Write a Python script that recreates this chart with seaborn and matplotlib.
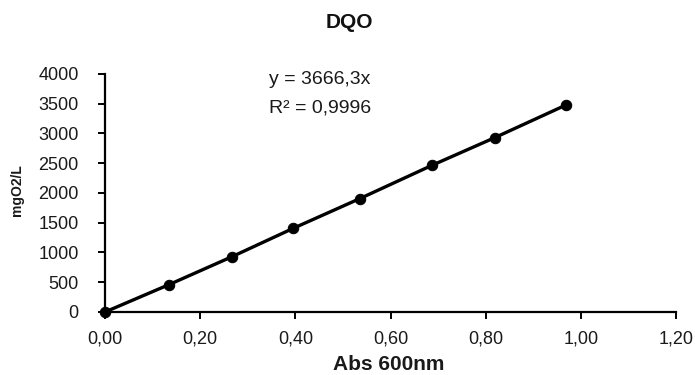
import matplotlib
matplotlib.use("Agg")
import matplotlib.pyplot as plt
import seaborn as sns
import pandas as pd
from matplotlib.ticker import FuncFormatter, MultipleLocator

sns.set_theme(style="white")
plt.rcParams['font.family'] = ['Liberation Sans', 'DejaVu Sans']

abs_600 = [0.0, 0.135, 0.267, 0.396, 0.535, 0.688, 0.819, 0.968]
mg_o2_l = [0, 462, 930, 1408, 1904, 2468, 2930, 3476]
title = "DQO"
x_label = "Abs 600nm"
y_label = "mgO2/L"
eq_text = "y = 3666,3x"
r2_text = "R² = 0,9996"

df = pd.DataFrame({"abs": abs_600, "mg": mg_o2_l})

W, H = 695, 375
fig = plt.figure(figsize=(6.95, 3.75), dpi=100)
ax = fig.add_axes([105 / W, 1 - 312 / H, (676 - 105) / W, (312 - 74) / H])
sns.lineplot(data=df, x="abs", y="mg", ax=ax, color="black", linewidth=2.4,
             marker="o", markersize=7.5, markeredgecolor="black", clip_on=False)

ax.set_xlim(0, 1.2)
ax.set_ylim(0, 4000)
ax.xaxis.set_major_locator(MultipleLocator(0.2))
ax.yaxis.set_major_locator(MultipleLocator(500))
ax.xaxis.set_major_formatter(FuncFormatter(lambda v, p: f"{v:.2f}".replace(".", ",")))
ax.yaxis.set_major_formatter(FuncFormatter(lambda v, p: f"{int(round(v))}"))
for s in ["top", "right"]:
    ax.spines[s].set_visible(False)
for s in ["left", "bottom"]:
    ax.spines[s].set_color("black")
    ax.spines[s].set_linewidth(1.6)
ax.tick_params(axis="both", which="major", direction="out", length=5, width=1.4,
               color="black", labelsize=13, labelcolor="#1a1a1a", bottom=True, left=True)
ax.tick_params(axis="y", pad=14)
ax.tick_params(axis="x", pad=8)
ax.set_xlabel("")
ax.set_ylabel("")
ax.grid(False)

fig.text(389 / W, 1 - 364 / H, x_label, ha="center", va="center", fontsize=15, fontweight="bold", color="#1a1a1a")
fig.text(17 / W, 1 - 190 / H, y_label, ha="center", va="center", rotation=90, fontsize=10, fontweight="bold", color="#1a1a1a")
fig.text(349 / W, 1 - 23 / H, title, ha="center", va="center", fontsize=15, fontweight="bold", color="#111111")
fig.text(320 / W, 1 - 80 / H, eq_text, ha="center", va="center", fontsize=14, color="#1a1a1a")
fig.text(320 / W, 1 - 108 / H, r2_text, ha="center", va="center", fontsize=14, color="#1a1a1a")

fig.savefig("out.png", dpi=100, facecolor="white")
